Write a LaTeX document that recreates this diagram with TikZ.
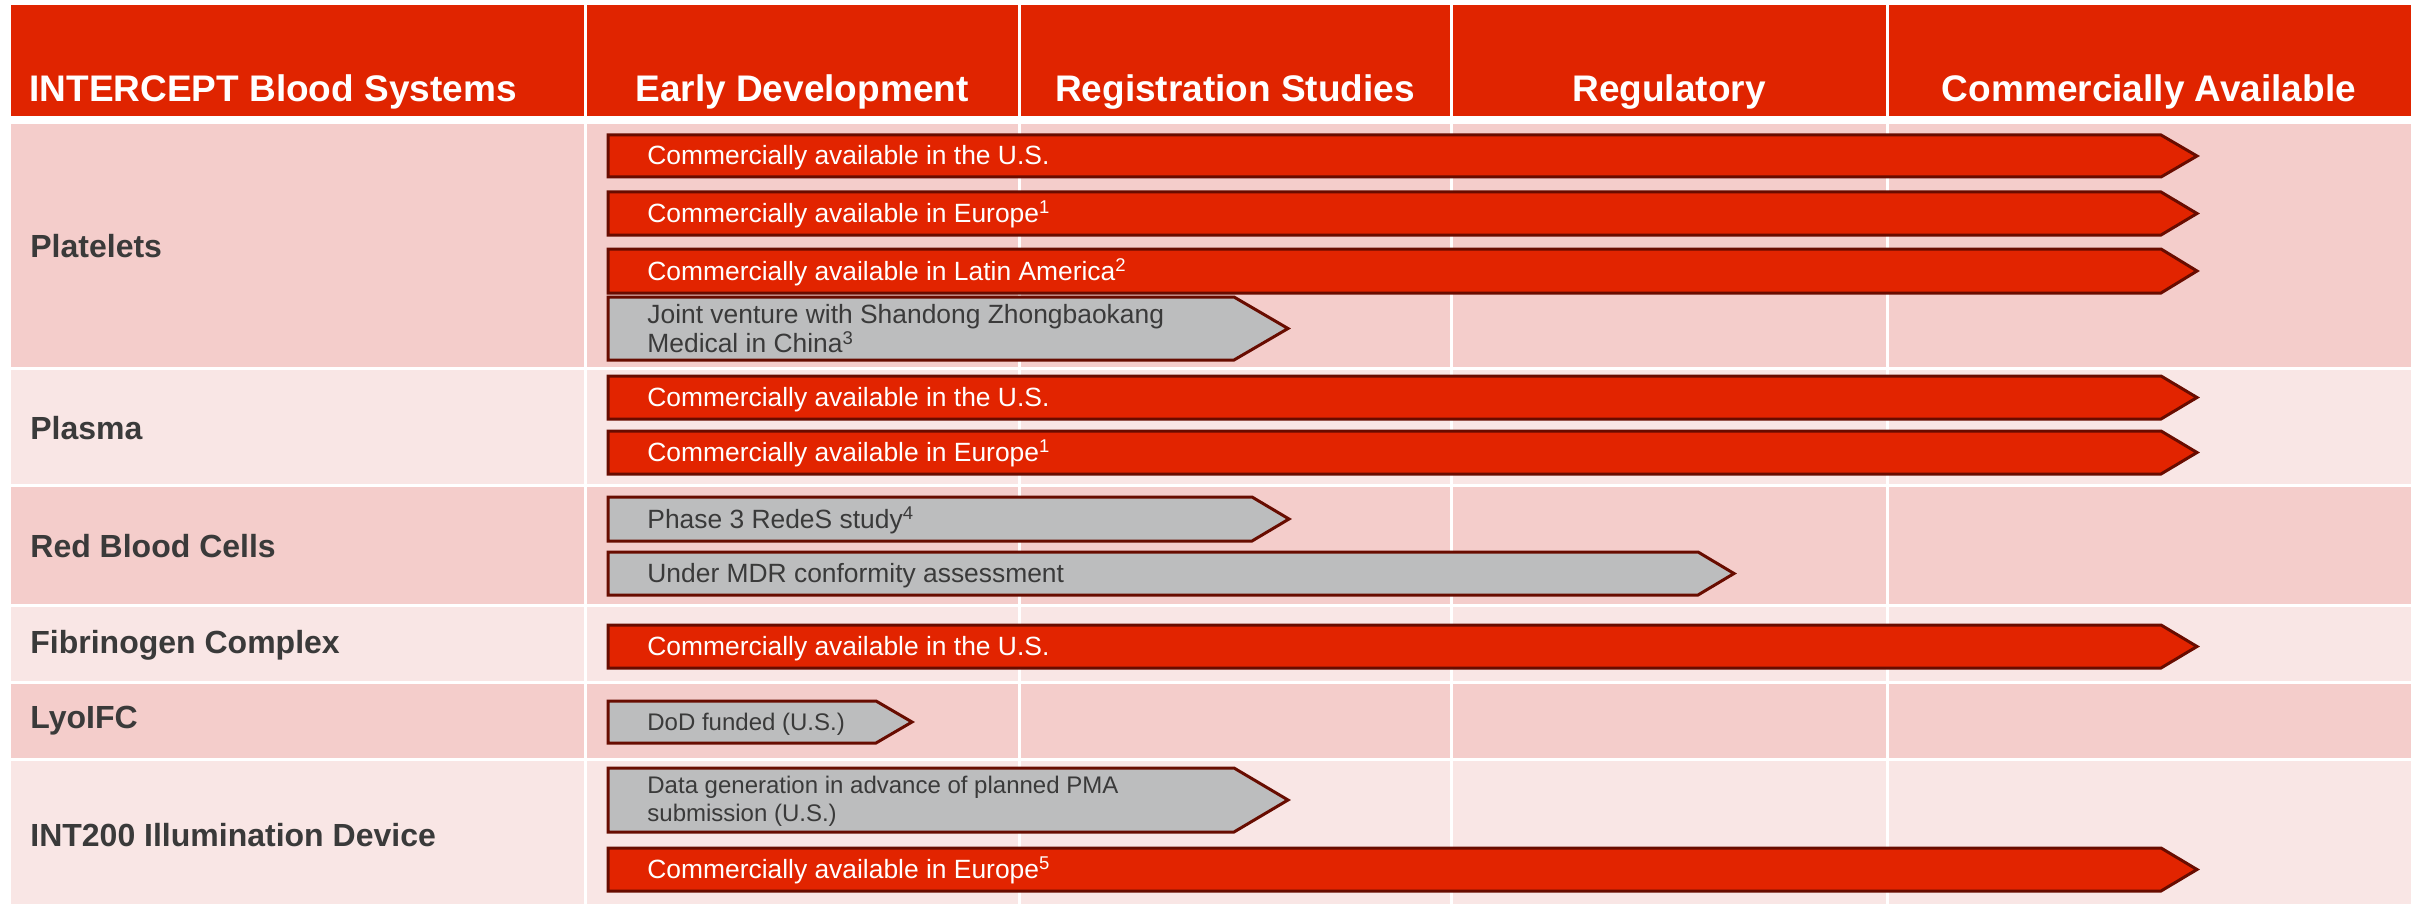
\documentclass[tikz,border=0pt]{standalone}
\usepackage{fontspec}
\setmainfont{Liberation Sans}
\newlength{\du}
\setlength{\du}{0.5pt}
\definecolor{hdrred}{RGB}{224,36,0}
\definecolor{barred}{RGB}{226,36,0}
\definecolor{barline}{RGB}{104,12,0}
\definecolor{rowdark}{RGB}{244,205,203}
\definecolor{rowlight}{RGB}{249,230,229}
\definecolor{bargrey}{RGB}{188,189,190}
\definecolor{labelgrey}{RGB}{58,58,58}
\tikzset{
  hdrtext/.style={text=white,font=\fontsize{18.5}{22}\selectfont\bfseries,inner sep=0pt,anchor=base},
  rowtext/.style={text=labelgrey,font=\fontsize{16}{19}\selectfont\bfseries,inner sep=0pt,anchor=west},
  redbar/.style={fill=barred,draw=barline,line width=3\du,line join=miter},
  greybar/.style={fill=bargrey,draw=barline,line width=3\du,line join=miter},
  redtext/.style={text=white,font=\fontsize{13.2}{14.5}\selectfont,inner sep=0pt,anchor=base west},
  greytext/.style={text=labelgrey,font=\fontsize{13.2}{14.5}\selectfont,inner sep=0pt,align=left,anchor=west},
  smalltext/.style={greytext,font=\fontsize{12}{14}\selectfont},
  gridline/.style={white,line width=3\du}
}

\begin{document}
\begin{tikzpicture}[yscale=-1]
\useasboundingbox[fill=white] (0\du,0\du) rectangle (2417\du,904\du);
% header band
\fill[hdrred] (11\du,5\du) rectangle (2411\du,116\du);
% row bands
\fill[rowdark] (11\du,124\du) rectangle (2411\du,367\du);
\fill[rowlight] (11\du,370\du) rectangle (2411\du,484\du);
\fill[rowdark] (11\du,487\du) rectangle (2411\du,604\du);
\fill[rowlight] (11\du,607\du) rectangle (2411\du,681\du);
\fill[rowdark] (11\du,684\du) rectangle (2411\du,758\du);
\fill[rowlight] (11\du,761\du) rectangle (2411\du,904\du);
% column dividers
\draw[gridline] (585\du,5\du)--(585\du,904\du);
\draw[gridline] (1019\du,5\du)--(1019\du,904\du);
\draw[gridline] (1451\du,5\du)--(1451\du,904\du);
\draw[gridline] (1887\du,5\du)--(1887\du,904\du);
% header texts
\node[hdrtext,anchor=base west] (hsys) at (29\du,102\du) {INTERCEPT Blood Systems};
\node[hdrtext] (hearly) at (802\du,102\du) {Early Development};
\node[hdrtext] (hreg) at (1235\du,102\du) {Registration Studies};
\node[hdrtext] (hregul) at (1669\du,102\du) {Regulatory};
\node[hdrtext] (hcomm) at (2149\du,102\du) {Commercially Available};
% row labels
\node[rowtext] (platelets) at (30\du,246\du) {Platelets};
\node[rowtext] (plasma) at (30\du,428\du) {Plasma};
\node[rowtext] (rbc) at (30\du,546\du) {Red Blood Cells};
\node[rowtext] (fibrinogen) at (30\du,645\du) {Fibrinogen Complex};
\node[rowtext] (lyoifc) at (30\du,721\du) {LyoIFC};
\node[rowtext] (int200) at (30\du,835\du) {INT200 Illumination Device};
% platelets bars
\draw[redbar] (608\du,135\du)--(2161\du,135\du)--(2197\du,156\du)--(2161\du,177\du)--(608\du,177\du)--cycle;
\node[redtext] (pltus) at (647\du,165\du) {Commercially available in the U.S.};
\draw[redbar] (608\du,192\du)--(2161\du,192\du)--(2197\du,213.5\du)--(2161\du,235\du)--(608\du,235\du)--cycle;
\node[redtext] (plteu) at (647\du,222.5\du) {Commercially available in Europe\textsuperscript{1}};
\draw[redbar] (608\du,249\du)--(2161\du,249\du)--(2197\du,271\du)--(2161\du,293\du)--(608\du,293\du)--cycle;
\node[redtext] (pltla) at (647\du,280\du) {Commercially available in Latin America\textsuperscript{2}};
\draw[greybar] (608\du,297\du)--(1234\du,297\du)--(1288\du,328.5\du)--(1234\du,360\du)--(608\du,360\du)--cycle;
\node[greytext] (pltcn) at (647\du,329\du) {Joint venture with Shandong Zhongbaokang\\Medical in China\textsuperscript{3}};
% plasma bars
\draw[redbar] (608\du,376\du)--(2161\du,376\du)--(2197\du,397.5\du)--(2161\du,419\du)--(608\du,419\du)--cycle;
\node[redtext] (plsus) at (647\du,406.5\du) {Commercially available in the U.S.};
\draw[redbar] (608\du,431\du)--(2161\du,431\du)--(2197\du,452.5\du)--(2161\du,474\du)--(608\du,474\du)--cycle;
\node[redtext] (plseu) at (647\du,461.5\du) {Commercially available in Europe\textsuperscript{1}};
% red blood cell bars
\draw[greybar] (608\du,497\du)--(1252\du,497\du)--(1289\du,519\du)--(1252\du,541\du)--(608\du,541\du)--cycle;
\node[greytext,anchor=base west] (rbcph3) at (647\du,528\du) {Phase 3 RedeS study\textsuperscript{4}};
\draw[greybar] (608\du,552\du)--(1698\du,552\du)--(1734\du,573.5\du)--(1698\du,595\du)--(608\du,595\du)--cycle;
\node[greytext,anchor=base west] (rbcmdr) at (647\du,582.5\du) {Under MDR conformity assessment};
% fibrinogen bar
\draw[redbar] (608\du,625\du)--(2161\du,625\du)--(2197\du,646.5\du)--(2161\du,668\du)--(608\du,668\du)--cycle;
\node[redtext] (fibus) at (647\du,655.5\du) {Commercially available in the U.S.};
% lyoifc bar
\draw[greybar] (608\du,701\du)--(876\du,701\du)--(912\du,722\du)--(876\du,743\du)--(608\du,743\du)--cycle;
\node[smalltext,anchor=base west] (lyodod) at (647\du,730.5\du) {DoD funded (U.S.)};
% int200 bars
\draw[greybar] (608\du,768\du)--(1234\du,768\du)--(1288\du,800\du)--(1234\du,832\du)--(608\du,832\du)--cycle;
\node[smalltext] (intpma) at (647\du,801\du) {Data generation in advance of planned PMA\\submission (U.S.)};
\draw[redbar] (608\du,848\du)--(2161\du,848\du)--(2197\du,869.5\du)--(2161\du,891\du)--(608\du,891\du)--cycle;
\node[redtext] (inteu) at (647\du,878.5\du) {Commercially available in Europe\textsuperscript{5}};
\end{tikzpicture}
\end{document}
